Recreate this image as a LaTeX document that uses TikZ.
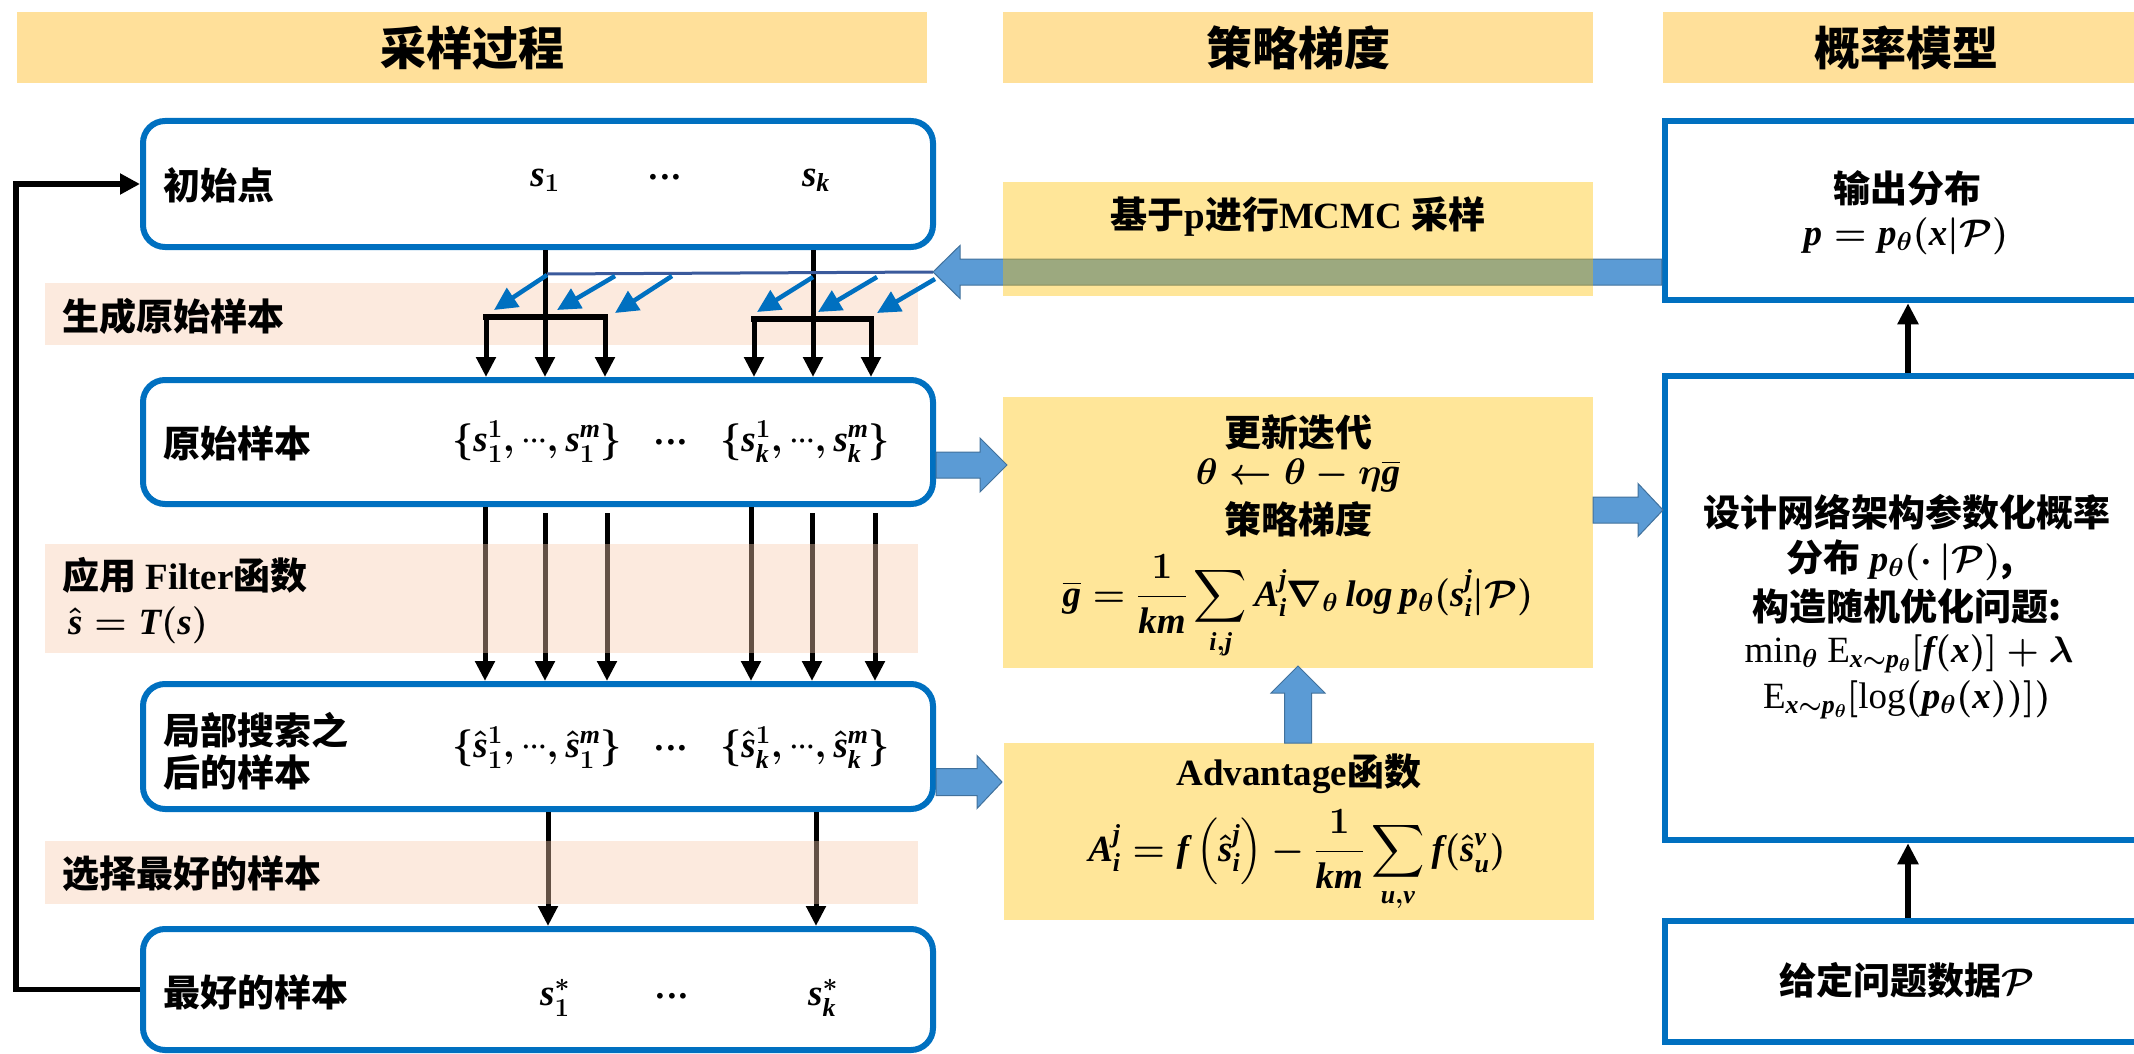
\RequirePackage{fix-cm}
\documentclass[tikz,border=0pt]{standalone}
\usepackage{amsmath,bm}
\usepackage{fontspec}
\setmainfont{Liberation Serif}
\newfontfamily\cjk{Noto Sans CJK SC}
\newfontfamily\mlat{Liberation Serif}[NFSSFamily=mlat]
\DeclareFontShape{OMX}{cmex}{m}{n}{<->cmex10}{}
\DeclareSymbolFont{mlatin}{TU}{mlat}{b}{it}
\SetSymbolFont{mlatin}{bold}{TU}{mlat}{b}{it}
\makeatletter
\@tfor\@tmpl:=abcdefghijklmnopqrstuvwxyzABCDEFGHIJKLMNOPQRSTUVWXYZ\do{%
  \edef\@tmpcmd{\noexpand\DeclareMathSymbol{\@tmpl}{\noexpand\mathalpha}{mlatin}{`\@tmpl}}\@tmpcmd}
\makeatother
\usetikzlibrary{arrows.meta,calc}
\definecolor{boxblue}{HTML}{0070C0}
\definecolor{hdrc}{HTML}{FFE09A}
\definecolor{goldc}{HTML}{FFC000}
\definecolor{peachc}{HTML}{F8CBAD}
\definecolor{peachl}{HTML}{FCEADE}
\definecolor{barrowc}{HTML}{5B9BD5}
\definecolor{barrowd}{HTML}{41719C}
\definecolor{thinb}{HTML}{3A5A9C}
\newcommand\zh[1]{{\cjk\bfseries #1}}
\newcommand\en[1]{{\rmfamily\bfseries #1}}
\newcommand\dd{\mathord{\cdot}\mathord{\cdot}\mathord{\cdot}}
\newcommand\sd{\text{\raisebox{3.5pt}{$\scriptstyle\dd$}}}
% block arrows: tail, tip, half shaft, half head, head length
\newcommand\rarrow[5]{\path[blockarrow] let \p1=(#1), \p2=(#2) in
  (\x1,\y1+#3pt) -- (\x2-#5pt,\y1+#3pt) -- (\x2-#5pt,\y1+#4pt) -- (\x2,\y1) --
  (\x2-#5pt,\y1-#4pt) -- (\x2-#5pt,\y1-#3pt) -- (\x1,\y1-#3pt) -- cycle;}
\newcommand\larrow[5]{\path[blockarrow] let \p1=(#1), \p2=(#2) in
  (\x1,\y1+#3pt) -- (\x2+#5pt,\y1+#3pt) -- (\x2+#5pt,\y1+#4pt) -- (\x2,\y1) --
  (\x2+#5pt,\y1-#4pt) -- (\x2+#5pt,\y1-#3pt) -- (\x1,\y1-#3pt) -- cycle;}
\newcommand\uarrow[5]{\path[blockarrow] let \p1=(#1), \p2=(#2) in
  (\x1-#3pt,\y1) -- (\x1-#3pt,\y2-#5pt) -- (\x1-#4pt,\y2-#5pt) -- (\x1,\y2) --
  (\x1+#4pt,\y2-#5pt) -- (\x1+#3pt,\y2-#5pt) -- (\x1+#3pt,\y1) -- cycle;}
\begin{document}
\begin{tikzpicture}[x=1pt,y=-1pt,
 txt/.style={inner sep=0pt, font=\fontsize{37}{42}\selectfont\bfseries\boldmath},
 hd/.style={fill=hdrc, inner sep=0pt, minimum height=71pt, font=\fontsize{46}{54}\selectfont\cjk\bfseries},
 lbox/.style={draw=boxblue, line width=6pt, rounded corners=22pt, fill=white, minimum width=790pt},
 rbox/.style={draw=boxblue, line width=6.5pt, fill=white, minimum width=480pt},
 ybox/.style={fill=goldc, fill opacity=0.4, minimum width=590pt, inner sep=0pt, outer sep=0pt},
 band/.style={minimum width=873pt, inner sep=0pt, outer sep=0pt},
 blk/.style={draw=black, line width=5pt, -{Triangle[length=20pt,width=19pt]}},
 barl/.style={draw=black, line width=6pt, line cap=rect},
 darr/.style={draw=boxblue, line width=4.5pt, -{Triangle[length=23pt,width=22pt]}},
 blockarrow/.style={fill=barrowc, draw=barrowd, line width=1pt},
 rarr/.style={draw=black, line width=6.5pt, -{Triangle[length=21pt,width=20pt]}},
]
\useasboundingbox (0,0) rectangle (2134,1054);
% headers
\node[hd, minimum width=910pt] (h1) at (472,47.5) {采样过程};
\node[hd, minimum width=590pt] (h2) at (1298,47.5) {策略梯度};
\node[hd, minimum width=487pt] (h3) at (1906.5,47.5) {概率模型};
% band 1
\node[band, fill=peachl, minimum height=62pt] (b1) at (481.5,314) {};
% left boxes
\node[lbox, minimum height=126pt] (box1) at (538,184) {};
\node[lbox, minimum height=124pt] (box2) at (538,442) {};
\node[lbox, minimum height=125pt] (box3) at (538,746.5) {};
\node[lbox, minimum height=121pt] (box4) at (538,989.5) {};
% right boxes
\node[rbox, minimum height=179pt] (R1) at (1905,210.5) {};
\node[rbox, minimum height=464pt] (R2) at (1905,608) {};
\node[rbox, minimum height=121pt] (R3) at (1905,981.5) {};
% branching arrows box1 -> box2
\coordinate (g1) at (545,317); \coordinate (g1l) at (486,317); \coordinate (g1r) at (605,317);
\coordinate (g2) at (813,319); \coordinate (g2l) at (754,319); \coordinate (g2r) at (871,319);
\draw[blk] (box1.south -| g1) -- (box2.north -| g1);
\draw[blk] (box1.south -| g2) -- (box2.north -| g2);
\draw[barl] (g1l) -- (g1r);
\draw[barl] (g2l) -- (g2r);
\draw[blk] (g1l) -- (box2.north -| g1l);
\draw[blk] (g1r) -- (box2.north -| g1r);
\draw[blk] (g2l) -- (box2.north -| g2l);
\draw[blk] (g2r) -- (box2.north -| g2r);
% thin line and big arrow
\coordinate (tl0) at (547,274);
\coordinate (bigtip) at (933,272);
\draw[thinb, line width=3pt] (tl0) -- (bigtip);
\larrow{R1.west |- bigtip}{bigtip}{13}{26.5}{27}
% diagonal blue arrows
\coordinate (d1s) at (547,275); \coordinate (d1t) at (494,310);
\coordinate (d2s) at (615,276); \coordinate (d2t) at (557,310);
\coordinate (d3s) at (672,276); \coordinate (d3t) at (615,313);
\coordinate (d4s) at (813,277); \coordinate (d4t) at (757,312);
\coordinate (d5s) at (877,277); \coordinate (d5t) at (818,312);
\coordinate (d6s) at (935,279); \coordinate (d6t) at (877,313);
\foreach \i in {1,...,6} {\draw[darr] (d\i s) -- (d\i t);}
% MCMC box (over the big arrow)
\node[ybox, minimum height=114pt] (mc) at (1298,239) {};
% box2 -> box3
\coordinate (f1) at (485,513); \coordinate (f2) at (545,513); \coordinate (f3) at (607,513);
\coordinate (f4) at (751,513); \coordinate (f5) at (812,513); \coordinate (f6) at (875,513);
\draw[blk] (box2.south -| f1) -- (box3.north -| f1);
\draw[blk] (f2) -- (box3.north -| f2);
\draw[blk] (f3) -- (box3.north -| f3);
\draw[blk] (box2.south -| f4) -- (box3.north -| f4);
\draw[blk] (f5) -- (box3.north -| f5);
\draw[blk] (f6) -- (box3.north -| f6);
% box3 -> box4
\coordinate (e1) at (548,0); \coordinate (e2) at (816,0);
\draw[blk] (box3.south -| e1) -- (box4.north -| e1);
\draw[blk] (box3.south -| e2) -- (box4.north -| e2);
% bands 2,3 (over arrows)
\node[band, fill=peachc, fill opacity=0.4, minimum height=109pt] (b2) at (481.5,598.5) {};
\node[band, fill=peachc, fill opacity=0.4, minimum height=63pt] (b3) at (481.5,872.5) {};
% loop back
\coordinate (lp) at (16,0);
\draw[line width=5.5pt, -{Triangle[length=20pt,width=20pt]}] (box4.west) -- (box4.west -| lp) |- (box1.west);
% middle boxes
\node[ybox, minimum height=271pt] (y2) at (1298,532.5) {};
\node[ybox, minimum height=177pt] (adv) at (1299,831.5) {};
% block arrows
\coordinate (a1t) at (1007,465);
\rarrow{box2.east |- a1t}{a1t}{13}{27}{27}
\coordinate (a2t) at (1002,782);
\rarrow{box3.east |- a2t}{a2t}{13.5}{26.5}{25}
\coordinate (a3t) at (1663,510);
\rarrow{y2.east |- a3t}{a3t}{13}{26.5}{25}
\coordinate (a4t) at (1298,666);
\uarrow{adv.north -| a4t}{a4t}{13.5}{27}{27}
% right arrows
\draw[rarr] ([xshift=3pt]R2.north) -- ([xshift=3pt]R1.south);
\draw[rarr] ([xshift=3pt]R3.north) -- ([xshift=3pt]R2.south);
% ---- texts ----
\node[txt, anchor=west] (t1) at (163,185) {\zh{初始点}};
\node[txt, anchor=base] (t1a) at (545,186) {$s_1$};
\node[txt, anchor=base] (t1b) at (665,186) {$\dd$};
\node[txt, anchor=base] (t1c) at (816,186) {$s_k$};
\node[txt, anchor=west] (tb1) at (62,316) {\zh{生成原始样本}};
\node[txt, anchor=west] (t2) at (163,443) {\zh{原始样本}};
\node[txt, anchor=base] (t2a) at (537,451) {$\{s_1^1,\sd,s_1^m\}$};
\node[txt, anchor=base] (t2b) at (671,451) {$\dd$};
\node[txt, anchor=base] (t2c) at (805,451) {$\{s_k^1,\sd,s_k^m\}$};
\node[txt, anchor=west] (tb2) at (62,575) {\zh{应用} \en{Filter}\zh{函数}};
\node[txt, anchor=base west] (tb2b) at (68,634) {$\hat{s}=T(s)$};
\node[txt, anchor=west, align=left] (t3) at (163,751) {\zh{局部搜索之}\\\zh{后的样本}};
\node[txt, anchor=base] (t3a) at (537,757) {$\{\hat{s}_1^1,\sd,\hat{s}_1^m\}$};
\node[txt, anchor=base] (t3b) at (671,757) {$\dd$};
\node[txt, anchor=base] (t3c) at (805,757) {$\{\hat{s}_k^1,\sd,\hat{s}_k^m\}$};
\node[txt, anchor=west] (tb3) at (62,874) {\zh{选择最好的样本}};
\node[txt, anchor=west] (t4) at (163,992) {\zh{最好的样本}};
\node[txt, anchor=base] (t4a) at (555,1005) {$s_1^*$};
\node[txt, anchor=base] (t4b) at (672,1005) {$\dd$};
\node[txt, anchor=base] (t4c) at (823,1005) {$s_k^*$};
% middle texts
\node[txt] (tm1) at (1298,217) {\zh{基于}\en{p}\zh{进行}\en{MCMC }\zh{采样}};
\node[txt] (tm2) at (1298,432) {\zh{更新迭代}};
\node[txt] (tm3) at (1298,476) {$\theta\leftarrow\theta-\eta\overline{g}$};
\node[txt] (tm4) at (1298,519) {\zh{策略梯度}};
\node[txt, anchor=base] (tm5) at (1298,606) {$\displaystyle \overline{g} = \frac{1}{km}\sum_{i,j} A_i^j\nabla_{\theta}\, log\, p_{\theta}(s_i^j|\mathcal{P})$};
\node[txt] (tm6) at (1299,774) {\en{Advantage}\zh{函数}};
\node[txt, anchor=base] (tm7) at (1297,861) {$\displaystyle A_i^j = f\left(\hat{s}_i^j\right)-\frac{1}{km}\sum_{u,v}f(\hat{s}_u^v)$};
% right texts
\node[txt] (tr1) at (1907,188) {\zh{输出分布}};
\node[txt, anchor=base] (tr2) at (1906,245) {$p=p_\theta(x|\mathcal{P})$};
\node[txt] (tr3) at (1907,512) {\zh{设计网络架构参数化概率}};
\node[txt] (tr4) at (1900,560) {\zh{分布} $p_\theta(\cdot\,|\mathcal{P})$\zh{,}};
\node[txt] (tr5) at (1907,606) {\zh{构造随机优化问题:}};
\node[txt, anchor=base] (tr6) at (1909,662) {$\textnormal{min}_\theta\ \textnormal{E}_{x\sim p_\theta}[f(x)]+\lambda$};
\node[txt, anchor=base] (tr7) at (1907,708) {$\textnormal{E}_{x\sim p_\theta}[\textnormal{log}(p_\theta(x))])$};
\node[txt] (tr8) at (1907,980) {\zh{给定问题数据}$\mathcal{P}$};
\end{tikzpicture}
\end{document}
